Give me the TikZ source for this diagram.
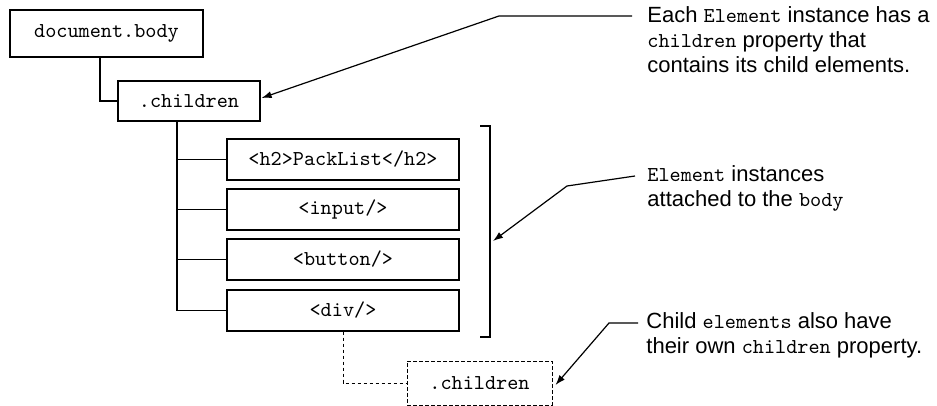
\documentclass[tikz,border=0pt]{standalone}
\usepackage{fontspec}
\setmainfont{Liberation Sans}
\usetikzlibrary{arrows.meta}
\newcommand{\cd}[1]{{\fontsize{10.6}{12.5}\selectfont\ttfamily #1}}

\begin{document}
\begin{tikzpicture}[x = 0.5pt, y = -0.5pt,
    box/.style = {draw, line width = 0.6pt, inner sep = 0pt, minimum height = 20.5pt,
      font = \fontsize{10.6}{11}\selectfont\ttfamily},
    note/.style = {anchor = west, align = left, inner sep = 0pt,
      font = \fontsize{11}{12.5}\selectfont},
    callout/.style = {line width = 0.6pt, -{Latex[length = 5pt, width = 3.5pt]}},
    dashline/.style = {line width = 0.5pt, dash pattern = on 1.8pt off 1.2pt}]

    \useasboundingbox (0,0) rectangle (937,406);

    \node[box, minimum width = 96.5pt, minimum height = 23.5pt] (body) at (106.5,33.5) {document.body};
    \node[box, minimum width = 71pt, minimum height = 20pt] (kids) at (189,101) {.children};

    \node[box, minimum width = 116pt] (h2) at (343,159.5) {<h2>PackList</h2>};
    \node[box, minimum width = 116pt] (input) at (343,209.5) {<input/>};
    \node[box, minimum width = 116pt] (button) at (343,259.5) {<button/>};
    \node[box, minimum width = 116pt] (div) at (343,310.5) {<div/>};

    \node[box, dashline, minimum width = 72.5pt, minimum height = 22pt]
      (sub) at (479.5,383) {.children};

    % Tree lines
    \draw[line width = 0.6pt] ([xshift = -3.25pt]body.south) |- (kids.west);
    \coordinate (trunk) at ([xshift = -6pt]kids.south);
    \draw[line width = 0.6pt] (trunk) |- (div.west);
    \foreach \n in {h2, input, button}
      \draw[line width = 0.6pt] (\n.west) -- (\n.west -| trunk);
    \draw[dashline] (div.south) |- (sub.west);

    % Bracket
    \draw[line width = 0.6pt] (480,126) -- (490,126) -- (490,337) -- (480,337);

    % Notes
    \node[note] (note1) at (647,40) {Each \cd{Element} instance has a\\
      \cd{children} property that\\ contains its child elements.};
    \node[note] (note2) at (647,188) {\cd{Element} instances\\ attached to the \cd{body}};
    \node[note] (note3) at (646,335.5) {Child \cd{elements} also have\\
      their own \cd{children} property.};

    \coordinate (c1) at (632,16);
    \coordinate (c2) at (635,176);
    \coordinate (c3) at (638,323);
    \coordinate (brk) at (493,241);

    \draw[callout] (c1) -- (499,16) -- ([xshift = 0.5pt, yshift = 1.5pt]kids.east);
    \draw[callout] (c2) -- (567,186) -- (brk);
    \draw[callout] (c3) -- (609,323) -- ([xshift = 1.5pt, yshift = -1pt]sub.east);

\end{tikzpicture}
\end{document}
